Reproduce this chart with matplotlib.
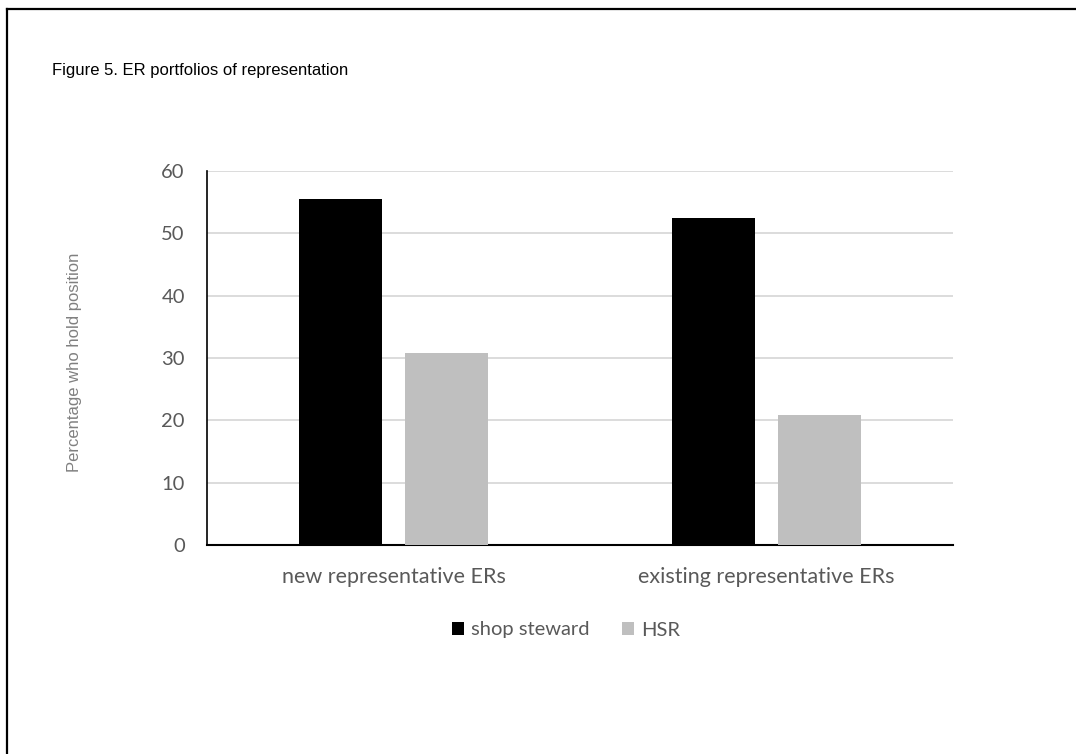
import numpy as np
import matplotlib.pyplot as plt
from matplotlib.lines import Line2D

# share of ERs holding each position (%)
groups = ['new representative ERs', 'existing representative ERs']
shop_steward = [55.5, 52.5]
hsr = [30.8, 20.9]
series_names = ['shop steward', 'HSR']
yticks = [0, 10, 20, 30, 40, 50, 60]

W, H = 1076, 754
fig = plt.figure(figsize=(W / 100, H / 100), dpi=100)

# axes box in pixel units
left, right, top, bottom = 207, 953, 171, 545
ax = fig.add_axes([left / W, 1 - bottom / H, (right - left) / W, (bottom - top) / H])

x = np.arange(len(groups))
width = 0.224
off = 0.142
ax.bar(x - off, shop_steward, width, color='black', label=series_names[0], zorder=3)
ax.bar(x + off, hsr, width, color='#bfbfbf', label=series_names[1], zorder=3)

ax.set_xlim(-0.5, 1.5)
ax.set_ylim(0, 60)
ax.set_yticks(yticks)
ax.set_xticks(x)
ax.set_xticklabels(groups)
ax.yaxis.grid(True, color='#d9d9d9', linewidth=1.3, zorder=0)

for s in ['top', 'right']:
    ax.spines[s].set_visible(False)
ax.spines['left'].set_linewidth(1.2)
ax.spines['bottom'].set_linewidth(1.5)
ax.tick_params(axis='both', length=0, labelcolor='#595959', labelsize=14.5)
ax.tick_params(axis='y', pad=16)
ax.tick_params(axis='x', pad=16, labelsize=15.5)
for lbl in ax.get_xticklabels() + ax.get_yticklabels():
    lbl.set_fontfamily('Lato')

# axis title placed in figure pixels
fig.text(75 / W, 1 - 362 / H, 'Percentage who hold position', rotation=90,
         fontsize=12, color='#808080', fontfamily='Liberation Sans',
         ha='center', va='center')

fig.text(52 / W, 1 - 70 / H, 'Figure 5. ER portfolios of representation',
         fontsize=12, fontfamily='Liberation Sans', va='center', ha='left')

leg = fig.legend(loc='center', bbox_to_anchor=(566 / W, 1 - 630 / H), ncol=2,
                 frameon=False, handlelength=0.62, handleheight=0.62,
                 handletextpad=0.35, columnspacing=1.6,
                 prop={'family': 'Lato', 'size': 14.5})
for t in leg.get_texts():
    t.set_color('#595959')

# page frame: left and top rules
fig.add_artist(Line2D([6.5 / W, 6.5 / W], [0, 1 - 8.5 / H], color='black', linewidth=1.6))
fig.add_artist(Line2D([6.5 / W, 1], [1 - 8.5 / H, 1 - 8.5 / H], color='black', linewidth=1.6))

fig.savefig('out.png', dpi=100, facecolor='white')
